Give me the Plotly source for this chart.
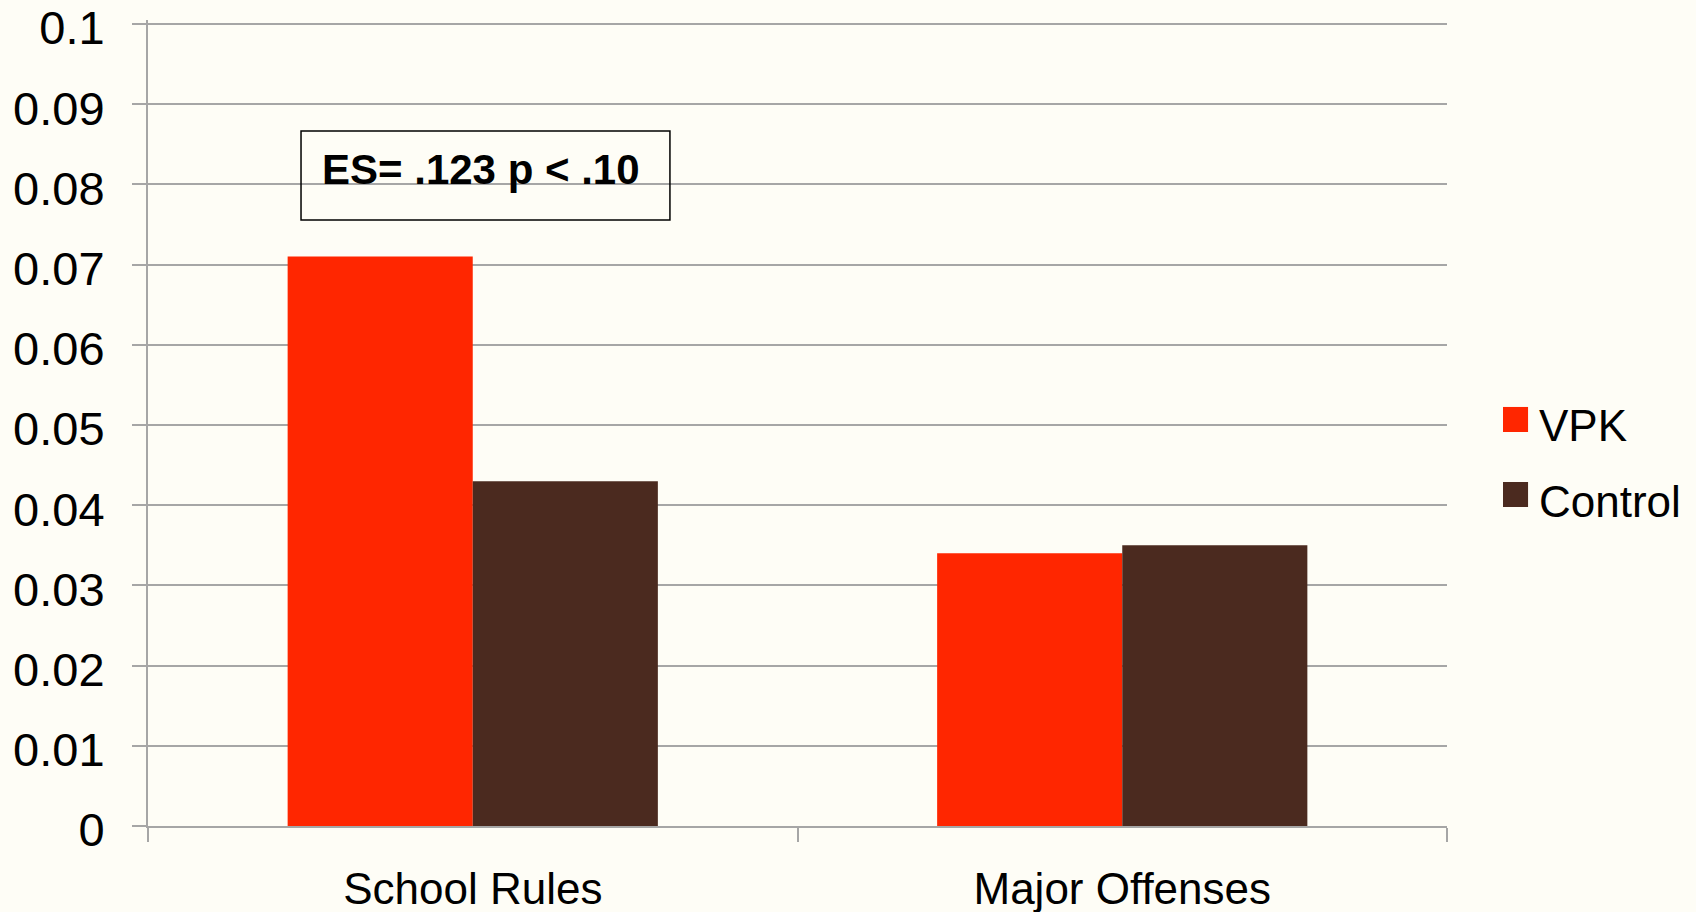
import plotly.graph_objects as go

categories = ["School Rules", "Major Offenses"]
series_names = ["VPK", "Control"]
vpk_values = [0.071, 0.034]
control_values = [0.043, 0.035]
series_values = [vpk_values, control_values]
series_colors = ["#FF2600", "#4B2A1F"]
y_ticks = [0, 0.01, 0.02, 0.03, 0.04, 0.05, 0.06, 0.07, 0.08, 0.09, 0.1]
y_tick_labels = ["0", "0.01", "0.02", "0.03", "0.04", "0.05", "0.06", "0.07", "0.08", "0.09", "0.1"]
annotation_text = "ES= .123 p < .10"

BG = "#FEFDF6"
GRID = "#A6A6A6"
FONT = "Liberation Sans, Arial, sans-serif"

fig = go.Figure()
for name, vals, col in zip(series_names, series_values, series_colors):
    fig.add_trace(go.Bar(x=categories, y=vals, name=name, marker=dict(color=col, line=dict(width=0)),
                         showlegend=False))

fig.update_layout(
    width=1696, height=912,
    margin=dict(l=148, r=249, t=20, b=86, autoexpand=False),
    paper_bgcolor=BG, plot_bgcolor=BG,
    barmode="group", bargap=0.43, bargroupgap=0,
    font=dict(family=FONT, color="#000000"),
    xaxis=dict(
        type="category", automargin=False, showgrid=False, showline=True, linecolor=GRID, linewidth=2,
        ticks="outside", tickson="boundaries", ticklen=14, tickcolor=GRID, tickwidth=1.5,
        tickfont=dict(size=44, family=FONT), ticklabelstandoff=23, ticklabeloverflow="allow",
    ),
    yaxis=dict(
        range=[0, 0.1005], automargin=False, tickvals=y_ticks, ticktext=y_tick_labels,
        showgrid=True, gridcolor=GRID, gridwidth=1.5,
        showline=True, linecolor=GRID, linewidth=2, zeroline=False,
        ticks="outside", ticklen=14, tickcolor=GRID, tickwidth=1.5,
        tickfont=dict(size=47, family=FONT), ticklabelstandoff=18, ticklabelshift=4,
        ticklabeloverflow="allow",
    ),
)

# Annotation box (paper coords: x -> (px-148)/1299, y -> (826-py)/806)
fig.add_shape(type="rect", xref="paper", yref="paper", x0=0.1178, x1=0.4018, y0=0.7519, y1=0.8623,
              line=dict(color="#000000", width=1.5), fillcolor="rgba(0,0,0,0)", layer="above")
fig.add_annotation(xref="paper", yref="paper", x=0.2567, y=0.8140, xanchor="center", yanchor="middle",
                   text="<b>" + annotation_text + "</b>", showarrow=False,
                   font=dict(size=42, family=FONT, color="#000000"))

# Legend (drawn manually for exact symbol size)
legend_sq = [(0.4888, 0.5199), (0.3958, 0.4268)]
legend_txt_y = [0.4965, 0.4025]
for name, col, (y0, y1), ty in zip(series_names, series_colors, legend_sq, legend_txt_y):
    fig.add_shape(type="rect", xref="paper", yref="paper", x0=1.0431, x1=1.0624, y0=y0, y1=y1,
                  line=dict(width=0), fillcolor=col)
    fig.add_annotation(xref="paper", yref="paper", x=1.0693, y=ty, xanchor="left", yanchor="middle",
                       text=name, showarrow=False, font=dict(size=44, family=FONT, color="#000000"))

fig.write_html("out.html")
